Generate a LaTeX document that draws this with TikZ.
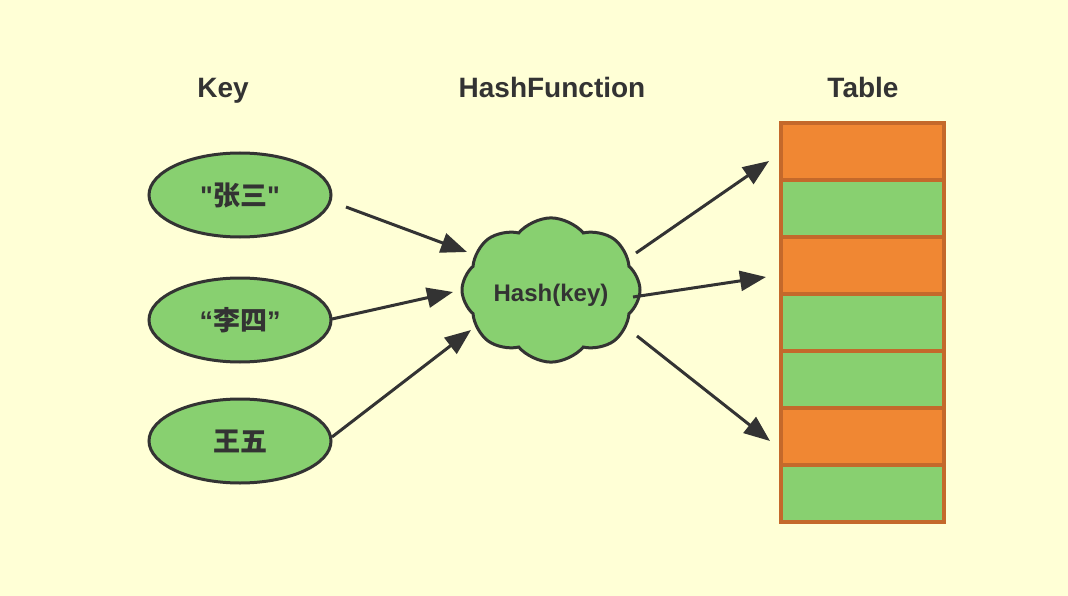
\documentclass[tikz,border=0pt]{standalone}
\usepackage{fontspec}
\setmainfont{Liberation Sans}
\newfontfamily\qfont{Liberation Sans}
\newfontfamily\cjk{Noto Sans CJK SC}
\usetikzlibrary{shapes.geometric,shapes.symbols,arrows.meta}
\definecolor{bg}{HTML}{FFFFD6}
\definecolor{gfill}{HTML}{88D070}
\definecolor{ofill}{HTML}{F08733}
\definecolor{oline}{HTML}{C4692B}
\definecolor{ink}{HTML}{333333}
\tikzset{
  keynode/.style={ellipse, draw=ink, line width=3pt, fill=gfill, minimum width=182pt, minimum height=84pt, inner sep=0pt, text=ink, font=\fontsize{27}{30}\selectfont\bfseries},
  title/.style={text=ink, font=\fontsize{28}{32}\selectfont\bfseries, inner sep=0pt, anchor=base},
  cell/.style={rectangle, draw=oline, line width=4pt, minimum width=163pt, minimum height=57pt, inner sep=0pt},
  ocell/.style={cell, fill=ofill},
  gcell/.style={cell, fill=gfill},
  arr/.style={draw=ink, line width=3pt, -{Triangle[length=26pt,width=20pt]}},
}
\begin{document}
\begin{tikzpicture}[x=1pt,y=-1pt]
\fill[bg] (0,0) rectangle (1068,596);
\useasboundingbox (0,0) rectangle (1068,596);
\node[title] (tkey) at (223,98) {Key};
\node[title] (thash) at (552,98) {HashFunction};
\node[title] (ttable) at (863,98) {Table};

\node[keynode] (k1) at (240,195) {{\qfont "}{\cjk 张三}{\qfont "}};
\node[keynode] (k2) at (240,320) {{\qfont “}{\cjk 李四}{\qfont ”}};
\node[keynode] (k3) at (240,441) {\cjk 王五};

\node[cloud, cloud puffs=8, cloud puff arc=100, aspect=1.3, draw=ink, line width=3pt, fill=gfill, minimum width=178pt, minimum height=136pt, inner sep=0pt, text=ink, font=\fontsize{24}{28}\selectfont\bfseries] (hash) at (551,290) {\raisebox{-11pt}[0pt][0pt]{Hash(key)}};

\node[ocell] (r1) at (862.5,151.5) {};
\node[gcell] (r2) at (862.5,208.5) {};
\node[ocell] (r3) at (862.5,265.5) {};
\node[gcell] (r4) at (862.5,322.5) {};
\node[gcell] (r5) at (862.5,379.5) {};
\node[ocell] (r6) at (862.5,436.5) {};
\node[gcell] (r7) at (862.5,493.5) {};

\coordinate (a1s) at (346,207); \coordinate (a1e) at (467,252);
\coordinate (a2s) at (332,319); \coordinate (a2e) at (453,292);
\coordinate (a3s) at (332,437); \coordinate (a3e) at (471,330);
\coordinate (a4s) at (636,253); \coordinate (a4e) at (769,161);
\coordinate (a5s) at (633,297); \coordinate (a5e) at (766,277);
\coordinate (a6s) at (637,336); \coordinate (a6e) at (770,441);
\draw[arr] (a1s) -- (a1e);
\draw[arr] (a2s) -- (a2e);
\draw[arr] (a3s) -- (a3e);
\draw[arr] (a4s) -- (a4e);
\draw[arr] (a5s) -- (a5e);
\draw[arr] (a6s) -- (a6e);
\end{tikzpicture}
\end{document}
